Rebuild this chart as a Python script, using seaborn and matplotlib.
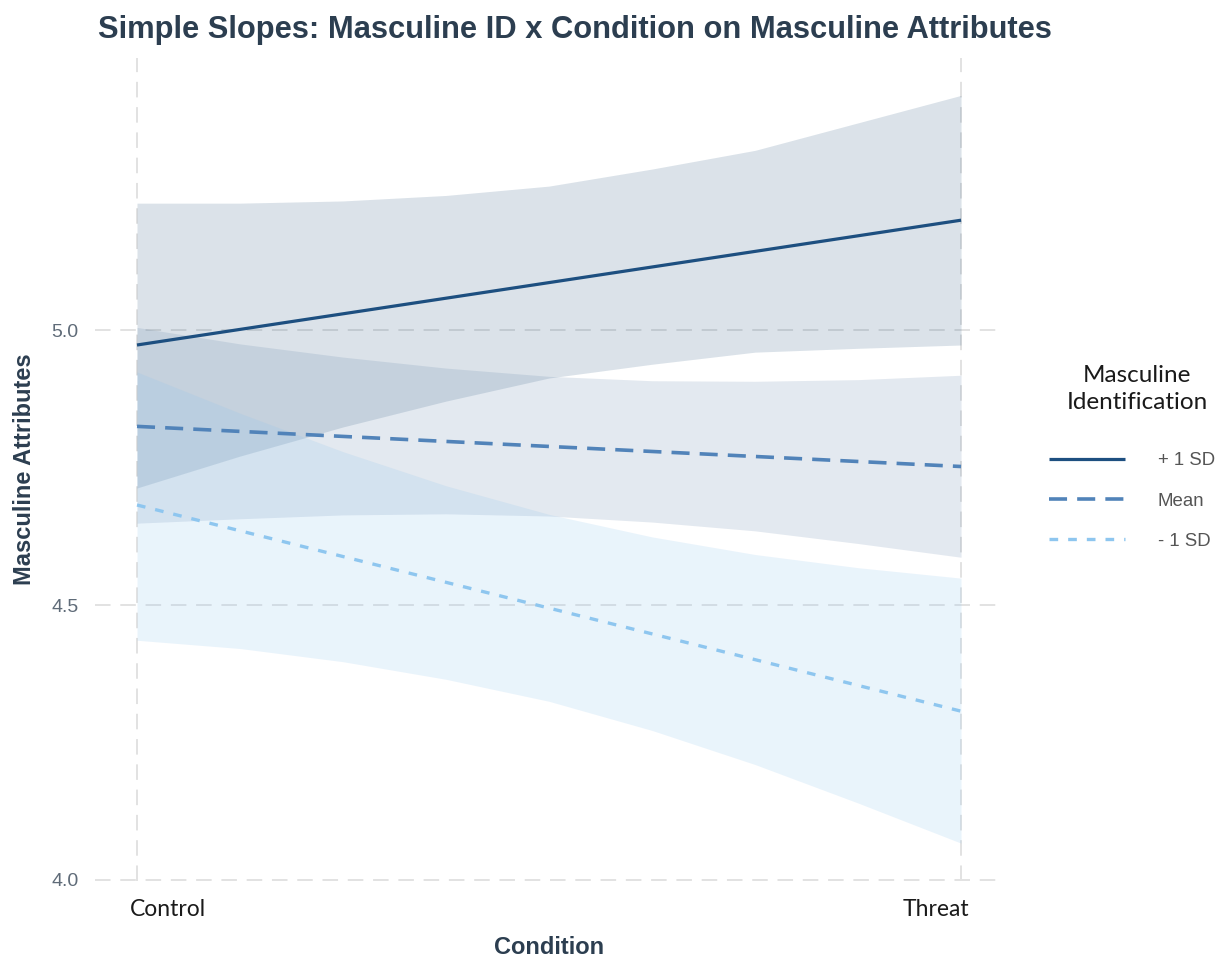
import numpy as np
import pandas as pd
import matplotlib
matplotlib.use("Agg")
import matplotlib.pyplot as plt
import seaborn as sns
from matplotlib.lines import Line2D
from matplotlib.transforms import ScaledTranslation

# ---- data -------------------------------------------------------------
conditions = ["Control", "Threat"]
condition_codes = [0.0, 1.0]
groups = ["+ 1 SD", "Mean", "- 1 SD"]

# predicted masculine attributes at Control / Threat
plus_sd = [4.973, 5.200]
mean_id = [4.825, 4.752]
minus_sd = [4.682, 4.307]

# confidence band edges along the condition axis (0 = Control, 1 = Threat)
band_x = [0.0, 0.125, 0.25, 0.375, 0.5, 0.625, 0.75, 0.875, 1.0]
plus_lo = [4.713, 4.771, 4.824, 4.871, 4.913, 4.938, 4.960, 4.967, 4.973]
plus_hi = [5.231, 5.231, 5.235, 5.245, 5.262, 5.293, 5.327, 5.377, 5.427]
mean_lo = [4.649, 4.657, 4.664, 4.666, 4.662, 4.651, 4.635, 4.612, 4.587]
mean_hi = [5.005, 4.975, 4.951, 4.931, 4.916, 4.908, 4.907, 4.910, 4.918]
minus_lo = [4.436, 4.421, 4.397, 4.365, 4.325, 4.272, 4.210, 4.140, 4.067]
minus_hi = [4.924, 4.849, 4.779, 4.717, 4.665, 4.624, 4.592, 4.568, 4.549]

y_ticks = [4.0, 4.5, 5.0]

# ---- styling ----------------------------------------------------------
line_colors = {"+ 1 SD": "#1d4f80", "Mean": "#5183b9", "- 1 SD": "#8ec6ef"}
band_colors = {"+ 1 SD": ("#1f4e79", 0.16), "Mean": ("#5b7fa6", 0.17),
               "- 1 SD": ("#8ec5ee", 0.19)}
dash_styles = {"+ 1 SD": "", "Mean": (5.0, 2.8), "- 1 SD": (2.6, 3.0)}
line_widths = {"+ 1 SD": 2.3, "Mean": 2.6, "- 1 SD": 2.4}
title_color = "#2c3e50"

sns.set_theme(style="white")
plt.rcParams["font.family"] = ["Liberation Sans", "DejaVu Sans"]

df = pd.DataFrame({
    "condition": condition_codes * 3,
    "value": plus_sd + mean_id + minus_sd,
    "group": [g for g in groups for _ in conditions],
})

fig = plt.figure(figsize=(12.27, 9.57), dpi=100)
ax = fig.add_axes([0.0774, 0.0799, 0.7401, 0.8595])

# confidence ribbons
bands = {"+ 1 SD": (plus_lo, plus_hi), "Mean": (mean_lo, mean_hi),
         "- 1 SD": (minus_lo, minus_hi)}
for g in groups:
    lo, hi = bands[g]
    c, a = band_colors[g]
    ax.fill_between(band_x, lo, hi, color=c, alpha=a, linewidth=0, zorder=1)

# simple slope lines
for g in groups:
    sub = df[df["group"] == g]
    sns.lineplot(data=sub, x="condition", y="value", color=line_colors[g],
                 linewidth=line_widths[g], ax=ax, legend=False, zorder=3,
                 dashes=False)
    ln = ax.lines[-1]
    if dash_styles[g]:
        ln.set_dashes(dash_styles[g])
    ln.set_solid_capstyle("butt")
    ln.set_dash_capstyle("butt")

# axes, grid
ax.set_xlim(-0.051, 1.051)
ax.set_ylim(3.999, 5.495)
ax.set_xticks(condition_codes)
ax.set_xticklabels(conditions, fontsize=16.5, family=["Lato", "DejaVu Sans"],
                   color="#1a1a1a")
ax.set_yticks(y_ticks)
ax.set_yticklabels([f"{t:.1f}" for t in y_ticks], fontsize=14,
                   color="#5f6b78")
ax.tick_params(axis="both", length=0)
ax.tick_params(axis="y", pad=12)
ax.tick_params(axis="x", pad=13)
for lab, dx in zip(ax.get_xticklabels(), [-7, 8]):
    lab.set_ha("left" if dx < 0 else "right")
    lab.set_transform(lab.get_transform()
                      + ScaledTranslation(dx / 100, 0, fig.dpi_scale_trans))
for s in ax.spines.values():
    s.set_visible(False)
ax.grid(True, color="#e2e2e2", linewidth=1.4, linestyle=(0, (8, 5)), zorder=0)
ax.set_axisbelow(True)

ax.set_xlabel("Condition", fontsize=17, fontweight="bold", color=title_color,
              labelpad=12)
ax.set_ylabel("Masculine Attributes", fontsize=17, fontweight="bold",
              color=title_color, labelpad=11)

fig.text(0.080, 1 - 38 / 957,
         "Simple Slopes: Masculine ID x Condition on Masculine Attributes",
         fontsize=22.2, fontweight="bold", color=title_color, ha="left",
         va="baseline")

# legend
fig.text(1137 / 1227, 1 - 389 / 957, "Masculine\nIdentification",
         fontsize=17.5, family=["Lato", "DejaVu Sans"], color="#1a1a1a",
         ha="center", va="center", multialignment="center", linespacing=1.4)

handles = []
for g in groups:
    h = Line2D([0], [0], color=line_colors[g], linewidth=line_widths[g])
    if dash_styles[g]:
        h.set_dashes(dash_styles[g])
    h.set_dash_capstyle("butt")
    h.set_solid_capstyle("butt")
    handles.append(h)
leg = fig.legend(handles, groups, loc="upper left",
                 bbox_to_anchor=(1049 / 1227, 1 - 452 / 957),
                 frameon=False, fontsize=13.4, handlelength=4.1,
                 handletextpad=1.75, labelspacing=1.26,
                 borderpad=0, borderaxespad=0)
for t in leg.get_texts():
    t.set_color("#555555")

fig.savefig("out.png", dpi=100, facecolor="white")
